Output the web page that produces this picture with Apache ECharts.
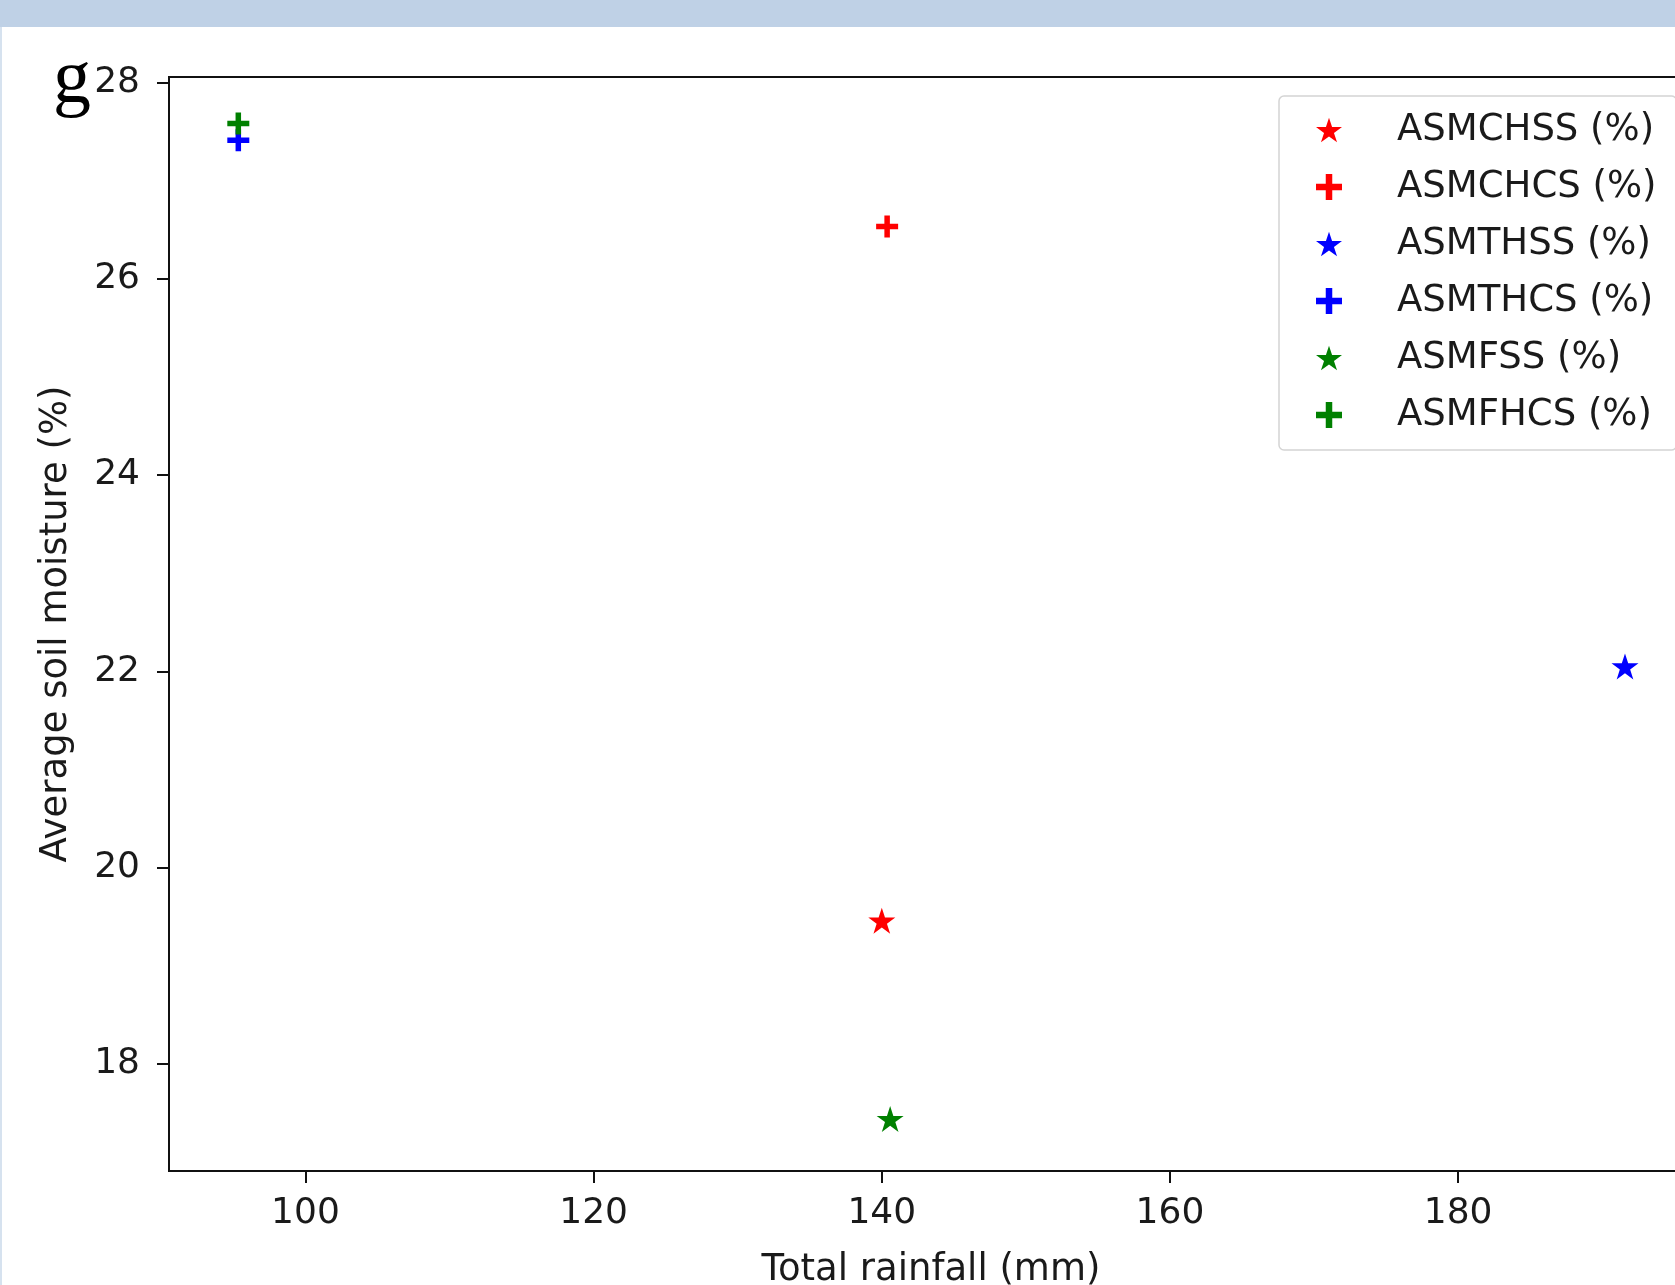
<!DOCTYPE html>
<html>
<head>
<meta charset="utf-8">
<script src="https://cdn.jsdelivr.net/npm/echarts@6/dist/echarts.min.js"></script>
<style>
html,body{margin:0;padding:0;background:#fff;}
#chart{width:1675px;height:1285px;}
</style>
</head>
<body>
<div id="chart"></div>
<script>
// ---- data ----
const seriesNames = ['ASMCHSS (%)', 'ASMCHCS (%)', 'ASMTHSS (%)', 'ASMTHCS (%)', 'ASMFSS (%)', 'ASMFHCS (%)'];
const rainfall = [140.0, 140.37, 191.58, 95.34, 140.58, 95.34];
const moisture = [19.46, 26.53, 22.05, 27.41, 17.44, 27.58];
const markerKinds = ['star', 'plus', 'star', 'plus', 'star', 'plus'];
const seriesColors = ['#ff0000', '#ff0000', '#0000ff', '#0000ff', '#008000', '#008000'];
const xTicks = [100, 120, 140, 160, 180];
const yTicks = [18, 20, 22, 24, 26, 28];
const xTitle = 'Total rainfall (mm)';
const yTitle = 'Average soil moisture (%)';
const panelLabel = 'g';

const STAR = 'path://M100,0L122.45,69.1L195.11,69.1L136.33,111.8L158.78,180.9L100,138.2L41.22,180.9L63.67,111.8L4.89,69.1L77.55,69.1Z';
const PLUS = 'path://M9,0H15V9H24V15H15V24H9V15H0V9H9Z';

const FONT = 'DejaVu Sans';
const chart = echarts.init(document.getElementById('chart'), null, {renderer: 'canvas'});

const series = seriesNames.map((name, i) => ({
  name: name,
  type: 'scatter',
  data: [[rainfall[i], moisture[i]]],
  symbol: markerKinds[i] === 'star' ? STAR : PLUS,
  symbolSize: markerKinds[i] === 'star' ? [27, 26] : 22,
  itemStyle: {color: seriesColors[i], opacity: 1},
  emphasis: {disabled: true},
  z: 3
}));

chart.setOption({
  animation: false,
  backgroundColor: '#ffffff',
  grid: {
    left: 169, top: 77, width: 1524, height: 1094,
    outerBoundsMode: 'none', containLabel: false,
    show: true, borderColor: '#111', borderWidth: 2, backgroundColor: 'transparent'
  },
  xAxis: {
    type: 'value', min: 90.53, max: 196.3,
    name: xTitle, nameLocation: 'middle', nameGap: 81,
    nameTextStyle: {fontFamily: FONT, fontSize: 37, color: '#1a1a1a'},
    axisLine: {show: true, onZero: false, lineStyle: {color: '#111', width: 2}},
    axisTick: {show: true, customValues: xTicks, length: 12, lineStyle: {color: '#111', width: 2}},
    axisLabel: {customValues: xTicks, fontFamily: FONT, fontSize: 36, color: '#1a1a1a', margin: 25},
    splitLine: {show: false}
  },
  yAxis: {
    type: 'value', min: 16.91, max: 28.054,
    name: yTitle, nameLocation: 'middle', nameGap: 94,
    nameTextStyle: {fontFamily: FONT, fontSize: 37, color: '#1a1a1a'},
    axisLine: {show: true, onZero: false, lineStyle: {color: '#111', width: 2}},
    axisTick: {show: true, customValues: yTicks, length: 12, lineStyle: {color: '#111', width: 2}},
    axisLabel: {customValues: yTicks, fontFamily: FONT, fontSize: 36, color: '#1a1a1a', margin: 29},
    splitLine: {show: false}
  },
  legend: {
    orient: 'vertical',
    left: 1279, top: 96,
    padding: [14, 20, 15, 37],
    itemWidth: 26, itemHeight: 26, itemGap: 17,
    borderColor: '#d4d4d4', borderWidth: 1.5, borderRadius: 5,
    backgroundColor: '#ffffff',
    selectedMode: false,
    textStyle: {fontFamily: FONT, fontSize: 37, color: '#1a1a1a', lineHeight: 40, padding: [0, 0, 0, 50]},
    data: seriesNames
  },
  graphic: [
    {type: 'rect', left: 0, top: 0, shape: {width: 1675, height: 27}, style: {fill: '#bfd1e6'}, z: 10},
    {type: 'rect', left: 0, top: 27, shape: {width: 2, height: 1258}, style: {fill: '#d6e2ef'}, z: 10},
    {type: 'text', x: 53, y: 82, style: {text: panelLabel, font: '76px "Liberation Serif"', fill: '#000', verticalAlign: 'middle', align: 'left'}, z: 10}
  ],
  series: series
});
</script>
</body>
</html>
